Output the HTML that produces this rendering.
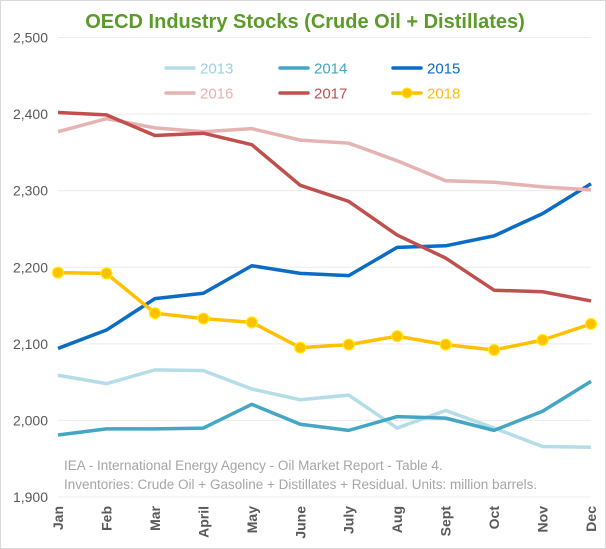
<!DOCTYPE html>
<html><head><meta charset="utf-8">
<style>
html,body{margin:0;padding:0;background:#fff;}
svg{display:block;font-family:"Liberation Sans",Arial,sans-serif;}
</style></head>
<body>
<svg id="chart" width="606" height="549" viewBox="0 0 606 549">
<rect x="0.5" y="0.5" width="605" height="548" fill="#fff" stroke="#d9d9d9"/>
<text x="305" y="28" text-anchor="middle" font-size="20" font-weight="bold" fill="#5b9b2a">OECD Industry Stocks (Crude Oil + Distillates)</text>
<g id="grid"></g>
<g id="yaxis"></g>
<g id="xaxis"></g>
<text x="64" y="470" font-size="13.5" fill="#a6a6a6">IEA - International Energy Agency - Oil Market Report - Table 4.</text>
<text x="64" y="489" font-size="13.5" fill="#a6a6a6">Inventories: Crude Oil + Gasoline + Distillates + Residual. Units: million barrels.</text>
<g id="series"></g>
<g id="legend"></g>
</svg>
<script>
const months = ["Jan","Feb","Mar","April","May","June","July","Aug","Sept","Oct","Nov","Dec"];
const yTicks = [1900,2000,2100,2200,2300,2400,2500];
const yTickLabels = ["1,900","2,000","2,100","2,200","2,300","2,400","2,500"];
const seriesNames = ["2013","2014","2015","2016","2017","2018"];
const s2013 = [2059,2048,2066,2065,2041,2027,2033,1990,2013,1990,1966,1965];
const s2014 = [1981,1989,1989,1990,2021,1995,1987,2005,2003,1987,2012,2051];
const s2015 = [2094,2118,2159,2166,2202,2192,2189,2226,2228,2241,2270,2309];
const s2016 = [2377,2394,2382,2377,2381,2366,2362,2339,2313,2311,2305,2301];
const s2017 = [2402,2399,2372,2375,2360,2307,2286,2242,2212,2170,2168,2156];
const s2018 = [2193,2192,2140,2133,2128,2095,2099,2110,2099,2092,2105,2126];

const NS="http://www.w3.org/2000/svg";
const X0=58, X1=591, Y0=497, Y1=37.5, VMIN=1900, VMAX=2500;
function xs(i){return X0+(X1-X0)*i/(months.length-1);}
function ys(v){return Y0-(v-VMIN)/(VMAX-VMIN)*(Y0-Y1);}
function mk(tag,attrs,parent){const e=document.createElementNS(NS,tag);for(const k in attrs)e.setAttribute(k,attrs[k]);parent.appendChild(e);return e;}

const grid=document.getElementById('grid'), yaxis=document.getElementById('yaxis'), xaxis=document.getElementById('xaxis');
yTicks.forEach((t,i)=>{
  const l=mk('line',{x1:X0,x2:X1,y1:ys(t),y2:ys(t),stroke:'#ececec','stroke-width':1},grid);
  
  
  const tx=mk('text',{x:48,y:ys(t)+5,'text-anchor':'end','font-size':14,fill:'#595959'},yaxis);
  tx.textContent=yTickLabels[i];
  
  
});
months.forEach((m,i)=>{
  const x=xs(i)+5;
  const tx=mk('text',{x:0,y:0,transform:`translate(${x},506) rotate(-90)`,'text-anchor':'end','font-size':14,'font-weight':'bold',fill:'#595959'},xaxis);
  tx.textContent=m;
  
  
});

const seriesData=[s2013,s2014,s2015,s2016,s2017,s2018];
const colors=["#b4dde8","#43a6c4","#0a6cc4","#e6b3b3","#c0504d","#ffc000"];
const sg=document.getElementById('series');
seriesData.forEach((d,k)=>{
  const pts=d.map((v,i)=>xs(i)+','+ys(v)).join(' ');
  const pl=mk('polyline',{points:pts,fill:'none',stroke:colors[k],'stroke-width':3.5,'stroke-linejoin':'round'},sg);
  
  
  if(k===5){
    d.forEach((v,i)=>{
      const c=mk('circle',{cx:xs(i),cy:ys(v),r:5.5,fill:'#ffc000',stroke:'#ffee00','stroke-width':1.2},sg);
      
      
    });
  }
});

const lg=document.getElementById('legend');
const legPos=[[166,68],[280,68],[393,68],[166,93],[280,93],[393,93]];
seriesNames.forEach((n,k)=>{
  const [x,y]=legPos[k];
  const g=mk('g',{},lg);
  
  
  mk('line',{x1:x,x2:x+28,y1:y,y2:y,stroke:colors[k],'stroke-width':3.5,'stroke-linecap':'round'},g);
  if(k===5) mk('circle',{cx:x+14,cy:y,r:5,fill:'#ffc000',stroke:'#ffee00','stroke-width':1},g);
  const t=mk('text',{x:x+34,y:y+5.5,'font-size':15,fill:colors[k]===  "#b4dde8" ? "#9fd0e0" : colors[k]},g);
  t.textContent=n;
});
</script>
</body></html>
